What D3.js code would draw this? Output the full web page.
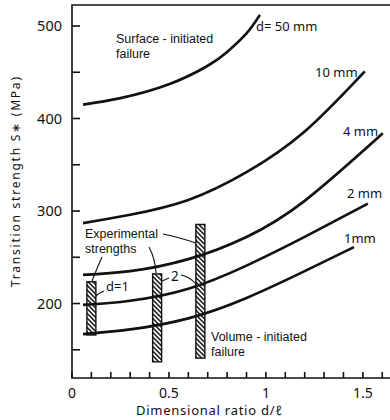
<!DOCTYPE html>
<html>
<head>
    <script src="https://cdnjs.cloudflare.com/ajax/libs/d3/7.8.5/d3.min.js"></script>
    <style>
        body { margin: 0; background: #fff; }
        text { font-family: "Noto Sans", sans-serif; fill: #111; }
        text.para { font-family: "Liberation Sans", Arial, sans-serif; }
        .axis-line { stroke: #111; stroke-width: 1.6px; fill: none; }
        .curve { stroke: #111; stroke-width: 2.7px; fill: none; }
        .leader { stroke: #111; stroke-width: 1.1px; fill: none; }
    </style>
</head>
<body>
<div id="chart"></div>
<script>
// tick values
const xTicks = d3.range(0, 16.5, 1).map(d => d / 10);
const xLabels = [0, 0.5, 1, 1.5];
const yTicks = [150, 200, 250, 300, 350, 400, 450, 500];
const yLabels = [200, 300, 400, 500];

// curves of transition strength, one per specimen diameter
const curveNames = ['d= 50 mm', '10 mm', '4 mm', '2 mm', '1mm'];
const curve50 = [[0.057, 415], [0.25, 422], [0.5, 437], [0.7, 457], [0.8, 472], [0.9, 492], [0.969, 512]];
const curve10 = [[0.057, 287], [0.3, 296], [0.6, 312], [0.9, 342], [1.2, 386], [1.51, 451]];
const curve4 = [[0.057, 231], [0.3, 235], [0.6, 248], [0.9, 272], [1.2, 311], [1.603, 384]];
const curve2 = [[0.057, 198.5], [0.3, 203], [0.6, 216], [0.9, 241], [1.2, 272], [1.526, 308]];
const curve1 = [[0.057, 167], [0.3, 172], [0.6, 184], [0.9, 206], [1.2, 235], [1.454, 261]];

// experimental strength ranges (hatched bars)
const barX = [0.1, 0.439, 0.662];
const barLow = [166, 137, 141];
const barHigh = [223.5, 232, 285.5];

const width = 390, height = 420;
const svg = d3.select('#chart').append('svg')
    .attr('width', width)
    .attr('height', height);

const x = d3.scaleLinear().domain([0, 1.64]).range([72, 390]);
const y = d3.scaleLinear().domain([119.5, 522.7]).range([378, 5]);

// hatch pattern, lines running down to the right
const pat = svg.append('defs').append('pattern')
    .attr('id', 'hatch')
    .attr('patternUnits', 'userSpaceOnUse')
    .attr('width', 3.3).attr('height', 3.3)
    .attr('patternTransform', 'rotate(-45)');
pat.append('rect').attr('width', 3.3).attr('height', 3.3).attr('fill', '#fff');
pat.append('line').attr('x1', 1.65).attr('y1', 0).attr('x2', 1.65).attr('y2', 3.3)
    .attr('stroke', '#222').attr('stroke-width', 1.6);

// axes frame
svg.append('path').attr('class', 'axis-line')
    .attr('d', `M${x.range()[1]},${y(522.7)}H${x(0)}V${y(119.5)}H${x.range()[1]}`);

// x ticks (pointing up)
svg.append('g').selectAll('line').data(xTicks).join('line')
    .attr('class', 'axis-line')
    .attr('stroke-width', 1.3)
    .attr('x1', d => x(d)).attr('x2', d => x(d))
    .attr('y1', y(119.5)).attr('y2', y(119.5) - 6);

svg.append('g').selectAll('text').data(xLabels).join('text')
    .attr('x', d => x(d))
    .attr('y', 398)
    .attr('text-anchor', 'middle')
    .attr('font-size', 14)
    .text(d => d);

// y ticks (pointing right)
svg.append('g').selectAll('line').data(yTicks).join('line')
    .attr('class', 'axis-line')
    .attr('stroke-width', 1.3)
    .attr('x1', x(0)).attr('x2', x(0) + 8)
    .attr('y1', d => y(d)).attr('y2', d => y(d));

svg.append('g').selectAll('text').data(yLabels).join('text')
    .attr('x', 62)
    .attr('y', d => y(d) + 5)
    .attr('text-anchor', 'end')
    .attr('font-size', 14.5)
    .text(d => d);

// axis titles
svg.append('text')
    .attr('transform', 'translate(20,182) rotate(-90)')
    .attr('text-anchor', 'middle')
    .attr('font-size', 12)
    .attr('textLength', 210)
    .attr('lengthAdjust', 'spacing')
    .text('Transition strength S\u2217 (MPa)');

svg.append('text')
    .attr('x', 209).attr('y', 415)
    .attr('text-anchor', 'middle')
    .attr('font-size', 13)
    .attr('textLength', 146)
    .attr('lengthAdjust', 'spacing')
    .text('Dimensional ratio  d/\u2113');

// hatched bars
const bw = 9;
svg.append('g').selectAll('rect').data(barX).join('rect')
    .attr('x', d => x(d) - bw / 2)
    .attr('width', bw)
    .attr('y', (d, i) => y(barHigh[i]))
    .attr('height', (d, i) => y(barLow[i]) - y(barHigh[i]))
    .attr('fill', 'url(#hatch)')
    .attr('stroke', '#111')
    .attr('stroke-width', 1.4);

// curves
const line = d3.line().x(d => x(d[0])).y(d => y(d[1])).curve(d3.curveNatural);
const curves = [curve50, curve10, curve4, curve2, curve1];
svg.append('g').selectAll('path').data(curves).join('path')
    .attr('class', 'curve')
    .attr('d', line);

// curve labels
const labelPos = [[256, 31], [315, 77], [343, 136], [347, 198], [344, 243]];
svg.append('g').selectAll('text').data(curveNames).join('text')
    .attr('x', (d, i) => labelPos[i][0])
    .attr('y', (d, i) => labelPos[i][1])
    .attr('font-size', 13)
    .text(d => d);

// region labels, one text element per line
function para(lines, x0, y0) {
    lines.forEach((s, i) => svg.append('text')
        .attr('class', 'para')
        .attr('font-size', 12.5)
        .attr('x', x0)
        .attr('y', y0 + i * 14.5)
        .text(s));
}
para(['Surface - initiated', 'failure'], 116, 43);
para(['Volume - initiated', 'failure'], 211, 341);
para(['Experimental', 'strengths'], 85, 238);

svg.append('text').attr('x', 106).attr('y', 291).attr('font-size', 13).text('d=1');
svg.append('text').attr('x', 171).attr('y', 281).attr('font-size', 13.5).text('2');

// leader lines
const leaders = [
    'M163,234 Q178,237 196,243',
    'M102,257 Q97,268 92,281',
    'M149,247 Q155,258 156,273',
    'M181,275 Q190,277 196,284',
    'M162,281 L169,278',
    'M104,291 Q99,293 96,296'
];
svg.append('g').selectAll('path').data(leaders).join('path')
    .attr('class', 'leader')
    .attr('d', d => d);
</script>
</body>
</html>
